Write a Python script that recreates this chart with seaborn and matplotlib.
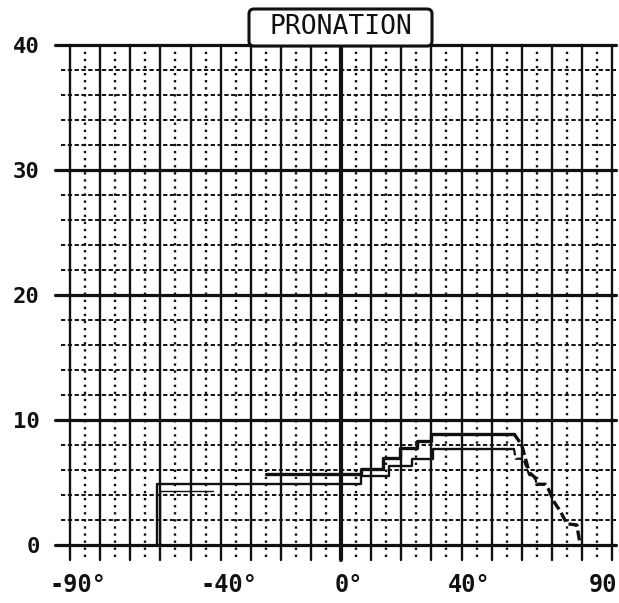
import numpy as np
import pandas as pd
import seaborn as sns
import matplotlib.pyplot as plt
import matplotlib.transforms as mtransforms
from matplotlib.patches import FancyBboxPatch

sns.set_theme(style="white")
plt.rcParams['font.family'] = ['DejaVu Sans Mono', 'DejaVu Sans']

# Upper (bold) pronation trace: angle in degrees, value
upper_angle = [-25, 6.6, 6.6, 14, 14, 19.7, 19.7, 25.2, 25.2, 30, 30, 57.4,
               60, 62.5, 64.4, 65, 67.8, 68.9, 70.6, 72.8, 75, 78.3, 79.4]
upper_value = [5.7, 5.7, 6.1, 6.1, 6.95, 6.95, 7.75, 7.75, 8.3, 8.3, 8.9, 8.9,
               8.0, 5.8, 5.4, 4.86, 4.86, 4.45, 3.5, 2.7, 1.7, 1.6, 0.0]

# Lower trace
lower_angle = [-61, -61, 6.6, 6.6, 16, 16, 23.6, 23.6, 30.5, 30.5, 57.4,
               58, 60.5, 62.5, 64.4, 65, 67.8]
lower_value = [0, 4.9, 4.9, 5.5, 5.5, 6.3, 6.3, 6.9, 6.9, 7.7, 7.7,
               6.9, 6.9, 5.6, 5.4, 4.86, 4.86]

# Short inner trace
inner_angle = [-60, -60, -42.5]
inner_value = [0, 4.3, 4.3]

# Axis labelling
x_tick_pos = [-90, -40, 0, 40, 90]
x_tick_labels = ["-90°", "-40°", "0°", "40°", "90"]
y_tick_pos = [0, 10, 20, 30, 40]
y_tick_labels = ["0", "10", "20", "30", "40"]
title = "PRONATION"

W, H = 619, 603
fig = plt.figure(figsize=(W / 100, H / 100), dpi=100)
fig.patch.set_facecolor("white")
ax = fig.add_axes([55 / W, 1 - 560 / H, (616 - 55) / W, (560 - 45) / H])
ax.set_facecolor("white")
XMIN, XMAX, YMIN, YMAX = -95, 91.3, -1.2, 40
ax.set_xlim(XMIN, XMAX)
ax.set_ylim(YMIN, YMAX)
for s in ax.spines.values():
    s.set_visible(False)

ink = "#111111"

# grid: solid every 10 degrees, dotted halfway between
for v in range(-90, 91, 10):
    ax.axvline(v, ymin=0, ymax=1, color=ink, lw=3.0 if v == 0 else 1.7,
               zorder=1, clip_on=False)
for v in range(-85, 90, 10):
    ax.axvline(v, ymin=0.006, ymax=1, color=ink, lw=1.7,
               ls=(0, (1.0, 2.0)), zorder=1)
# horizontal: solid every 10, dashed every 2
for h in range(2, 40, 2):
    if h % 10:
        ax.axhline(h, xmin=(-93 - XMIN) / (XMAX - XMIN), xmax=1, color=ink,
                   lw=1.4, ls=(0, (2.2, 1.3)), zorder=1)
for h in y_tick_pos:
    ax.axhline(h, color=ink, lw=2.3, zorder=2, clip_on=False)

# traces
def trace(xs, ys, lw, ls="-"):
    sns.lineplot(x=xs, y=ys, sort=False, estimator=None, color=ink,
                 lw=lw, ls=ls, ax=ax, zorder=4)

trace(upper_angle[:12], upper_value[:12], 2.4)
trace(upper_angle[11:], upper_value[11:], 2.4, (0, (3.0, 1.2)))
trace(lower_angle[:11], lower_value[:11], 1.7)
trace(lower_angle[10:], lower_value[10:], 1.6, (0, (3.0, 1.5)))
trace(inner_angle, inner_value, 1.0)

# tick labels
ax.set_xticks(x_tick_pos)
ax.set_xticklabels(x_tick_labels, fontsize=17, fontweight="bold", color=ink)
ax.set_yticks(y_tick_pos)
ax.set_yticklabels(y_tick_labels, fontsize=16, fontweight="bold", color=ink)
ax.tick_params(axis="both", length=0)
ax.tick_params(axis="x", pad=9)
ax.tick_params(axis="y", pad=11)
shift = mtransforms.ScaledTranslation(8 / 100, 0, fig.dpi_scale_trans)
last_shift = mtransforms.ScaledTranslation(-9 / 100, 0, fig.dpi_scale_trans)
xlabs = ax.get_xticklabels()
for lab in xlabs[:-1]:
    lab.set_transform(lab.get_transform() + shift)
xlabs[-1].set_transform(xlabs[-1].get_transform() + last_shift)
ax.grid(False)

# boxed title
box = FancyBboxPatch((249, H - 46), 183, 37,
                     boxstyle="round,pad=0,rounding_size=5",
                     transform=mtransforms.IdentityTransform(),
                     fc="white", ec=ink, lw=2.2, zorder=5)
fig.add_artist(box)
fig.text(340.5 / W, 1 - 27 / H, title, ha="center", va="center",
         fontsize=19, color=ink, zorder=6)

fig.savefig("out.png", dpi=100, facecolor="white")
